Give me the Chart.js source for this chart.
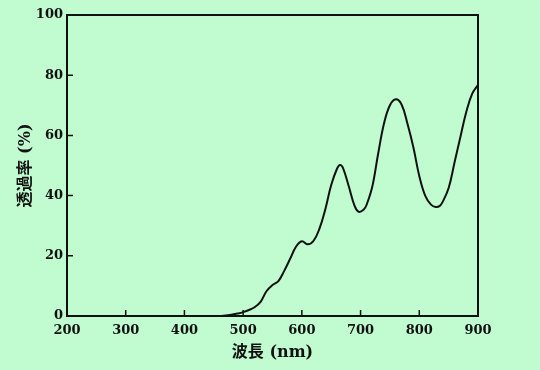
<!DOCTYPE html>
<html><head><meta charset="utf-8">
<script src="https://cdn.jsdelivr.net/npm/chart.js@4"></script>
<style>html,body{margin:0;padding:0;background:#c0fcd0;}</style>
</head><body>
<canvas id="c" width="540" height="370"></canvas>
<script>
const wavelengths = [200,250,300,350,400,450,460,470,480,490,500,510,520,530,540,550,560,570,580,590,600,610,620,630,640,650,660,665,670,680,690,697,705,710,720,730,740,750,760,770,780,790,800,810,820,828,835,840,850,860,870,880,890,900];
const transmittance = [0,0,0,0,0,0,0,0.2,0.4,0.8,1.3,2.0,3.0,4.8,8.3,10.3,11.6,15,19,23,24.8,23.8,25.0,29,35.5,43.5,49,50.2,49.2,43,36.5,34.6,35.3,36.8,43,54,64,70,72,70.2,63.8,56,46.5,40,37,36.2,36.6,38,42.5,51,59.5,67.8,73.8,76.8];
const xTickValues = [200,300,400,500,600,700,800,900];
const yTickValues = [0,20,40,60,80,100];
const xTitle = '波長 (nm)';
const yTitle = '透過率 (%)';

const ink = '#111';
const bg = '#c0fcd0';
const tickFont = {family: "'DejaVu Serif', serif", weight: 'bold', size: 13};
const titleFont = {family: "'DejaVu Serif', 'Noto Sans CJK JP', serif", weight: 'bold', size: 16};

const bgPlugin = {id:'bg', beforeDraw(chart){const c=chart.ctx; c.save(); c.fillStyle=bg; c.fillRect(0,0,chart.width,chart.height); c.restore();}};
const framePlugin = {id:'frame', beforeDatasetsDraw(chart){
  const {ctx, chartArea:a, scales:{x, y}} = chart;
  ctx.save();
  ctx.strokeStyle = ink;
  ctx.lineWidth = 2;
  ctx.strokeRect(a.left, a.top, a.right - a.left, a.bottom - a.top);
  ctx.lineWidth = 1.5;
  ctx.beginPath();
  xTickValues.forEach(v => { if (v > x.min && v < x.max) { const p = x.getPixelForValue(v); ctx.moveTo(p, a.bottom); ctx.lineTo(p, a.bottom - 6); } });
  yTickValues.forEach(v => { if (v > y.min && v < y.max) { const p = y.getPixelForValue(v); ctx.moveTo(a.left, p); ctx.lineTo(a.left + 6, p); } });
  ctx.stroke();
  ctx.restore();
}};

new Chart(document.getElementById('c').getContext('2d'), {
  type: 'line',
  data: {datasets: [{
    data: wavelengths.map((w, i) => ({x: w, y: transmittance[i]})),
    borderColor: ink, borderWidth: 2, pointRadius: 0, fill: false,
    tension: 0.4
  }]},
  options: {
    responsive: false, animation: false,
    layout: {padding: {left: 0, right: 62, top: 15, bottom: 0}},
    plugins: {legend: {display: false}, tooltip: {enabled: false}},
    scales: {
      x: {
        type: 'linear', min: 200, max: 900,
        afterBuildTicks: s => { s.ticks = xTickValues.map(v => ({value: v})); },
        afterFit: s => { s.height = 54; },
        grid: {display: false, drawTicks: false},
        border: {display: false},
        ticks: {font: tickFont, color: ink, padding: 7, maxRotation: 0, autoSkip: false},
        title: {display: true, text: xTitle, font: titleFont, color: ink, padding: {top: 0, bottom: 8}}
      },
      y: {
        type: 'linear', min: 0, max: 100,
        afterBuildTicks: s => { s.ticks = yTickValues.map(v => ({value: v})); },
        afterFit: s => { s.width = 67; },
        grid: {display: false, drawTicks: false},
        border: {display: false},
        ticks: {font: tickFont, color: ink, padding: 4, autoSkip: false},
        title: {display: true, text: yTitle, font: titleFont, color: ink, padding: {top: 16, bottom: 0}}
      }
    }
  },
  plugins: [bgPlugin, framePlugin]
});
</script>
</body></html>
